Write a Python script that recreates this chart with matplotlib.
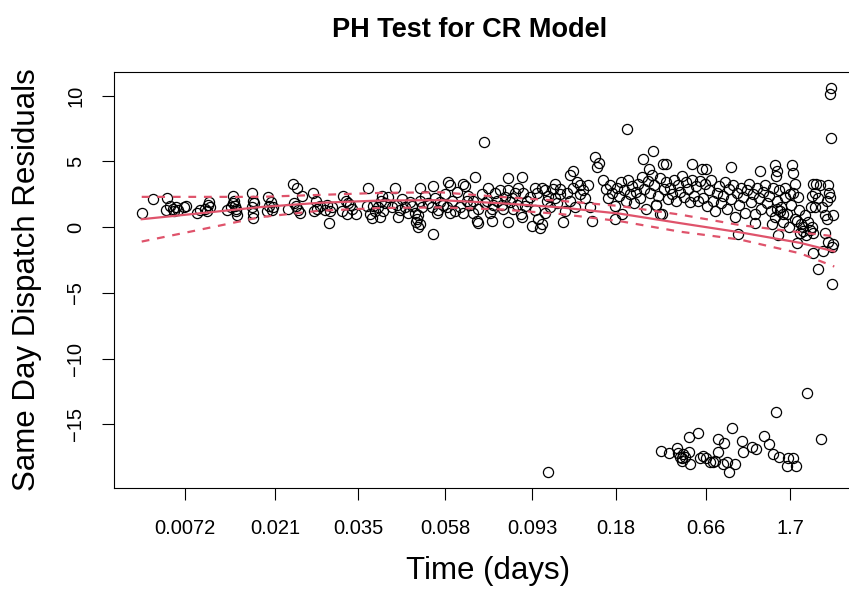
import numpy as np
import matplotlib
matplotlib.use("Agg")
import matplotlib.pyplot as plt

plt.rcParams['font.family'] = ['Liberation Sans', 'DejaVu Sans']

# x = rank of event time (cox.zph transform="rank"), y = scaled Schoenfeld residual
early_rank = [2, 13, 27, 26, 30, 33, 36, 38, 34, 44, 46,
              57, 60, 65, 68, 69, 70, 67,
              87, 93, 94, 95, 96, 97, 93, 91, 96,
              112, 113, 112, 113, 113, 114,
              128, 131, 129, 133, 127, 132,
              153, 157, 148, 156, 160, 154, 162, 158,
              173, 177, 180, 176, 174,
              187, 189, 185, 192, 190]
early_resid = [1.05, 2.1, 2.2, 1.3, 1.6, 1.4, 1.5, 1.3, 1.2, 1.5, 1.6,
               1.1, 1.3, 1.4, 1.7, 1.9, 1.5, 1.2,
               1.3, 2.4, 2.0, 1.6, 1.2, 0.9, 1.8, 1.5, 1.4,
               2.6, 2.0, 1.5, 0.7, 1.1, 1.8,
               2.3, 1.9, 1.6, 1.5, 1.2, 1.3,
               3.3, 3.0, 1.4, 1.6, 1.1, 1.8, 2.4, 1.3,
               2.6, 1.4, 1.6, 2.0, 1.2,
               1.7, 0.3, 1.3, 1.5, 1.2]

mid_rank = [203, 202, 207, 212, 210, 208, 216, 206,
            228, 227, 230, 232, 235, 233, 238, 242, 241, 243, 240, 245, 248, 252,
            255, 257, 258, 262, 260, 265, 268, 270, 272,
            280, 277, 280, 278, 276, 282, 275, 280, 278, 285, 288,
            293, 293, 292, 297, 300, 295, 298, 305,
            308, 310, 307, 312, 310, 303, 315, 317,
            323, 325, 320, 327, 323, 330, 328,
            335, 337, 338, 333, 338, 333,
            344, 342, 345,
            348, 347, 352, 353, 350, 352, 355,
            360, 357, 363, 362, 365,
            368, 368, 368, 370, 372, 375, 378,
            382, 381, 382, 383, 387, 377, 373, 385, 390,
            392, 400, 402, 398, 395, 395, 397,
            405, 407, 413, 410, 405, 402, 408, 408,
            415, 415, 417, 420, 420, 423, 425, 427,
            430, 433, 433, 437, 440, 430, 435, 440, 443,
            448, 450, 452, 445,
            455, 457, 459]
mid_resid = [2.4, 1.2, 1.0, 1.4, 1.7, 1.8, 1.0, 2.0,
             3.0, 1.6, 1.0, 0.7, 1.2, 1.6, 1.5, 2.4, 2.0, 1.2, 0.8, 1.8, 2.3, 1.5,
             3.0, 1.7, 0.8, 2.1, 1.3, 1.5, 1.1, 1.9, 1.6,
             3.0, 0.6, 0.2, 0.0, 0.4, 1.5, 1.1, 2.0, 0.9, 2.4, 1.8,
             3.1, -0.55, 1.5, 1.1, 1.9, 2.2, 1.3, 2.5,
             3.4, 3.2, 1.5, 2.0, 1.1, 1.7, 1.2, 2.7,
             3.3, 3.1, 1.5, 2.0, 1.1, 1.7, 2.4,
             3.8, 0.5, 0.3, 2.0, 1.4, 1.1,
             6.5, 2.5, 1.8,
             3.0, 2.0, 1.4, 1.7, 1.1, 0.45, 2.6,
             2.8, 2.0, 1.4, 1.7, 2.3,
             3.7, 2.8, 0.4, 1.9, 2.2, 2.6, 3.0,
             3.8, 1.0, 0.75, 2.6, 2.0, 1.7, 1.4, 1.6, 2.3,
             0.1, -0.1, 0.2, 0.6, 1.3, 3.0, 2.6,
             2.8, 2.0, 2.9, 1.5, 1.1, 3.0, 2.4, -18.6,
             3.3, 2.2, 1.8, 2.5, 2.9, 0.4, 1.2, 2.6,
             4.0, 4.3, 3.0, 3.4, 3.2, 2.0, 1.5, 2.5, 2.8,
             3.2, 1.5, 0.45, 2.2,
             5.3, 4.6, 4.9]

late_rank = [463, 466, 468, 470, 472, 475, 477, 479, 481, 484, 486, 488, 490, 492,
             494, 496, 498, 500, 502, 504, 506, 508, 510, 512, 514, 516, 518, 520,
             522, 524, 526, 528, 530, 532, 534, 536, 538, 540, 542, 544, 546, 548,
             550, 552, 554, 556, 558, 560,
             475, 482, 520, 516,
             487, 513, 503, 523, 526, 552, 509, 562, 566, 591, 620, 635, 637, 636,
             652, 653, 655, 691, 690, 691,
             563, 565, 567, 569, 571, 573, 575, 577, 579, 581, 583, 585, 587, 589,
             591, 593, 595, 597, 599, 601, 603, 605, 607, 609, 611, 613, 615, 617,
             619, 621, 623, 625, 627,
             598, 615, 632, 638,
             629, 631, 633, 635, 637, 639, 641, 643, 645, 647, 649, 651, 653, 655,
             657, 659, 661, 663, 665, 666, 668, 670, 671, 672,
             645, 650, 658, 637, 640, 643, 657, 663, 660,
             673, 676, 680, 688, 672, 675, 678, 689, 690, 687, 675, 682, 685, 687,
             693, 673, 685, 688, 692, 673, 683, 693, 678, 692]
late_resid = [3.6, 2.9, 2.2, 3.2, 2.6, 1.6, 3.0, 2.4, 3.4, 2.8, 2.0, 3.6, 2.5, 3.1,
              1.8, 2.7, 3.3, 2.2, 3.8, 2.9, 1.4, 3.5, 2.6, 4.0, 3.2, 1.7, 2.4, 3.7,
              1.0, 2.9, 3.4, 2.1, 3.0, 2.5, 3.6, 2.0, 3.2, 2.7, 3.9, 2.3, 3.4, 2.9,
              1.9, 3.6, 2.4, 3.1, 2.0, 3.5,
              0.6, 1.0, 1.0, 1.7,
              7.5, 5.8, 5.2, 4.8, 4.8, 4.8, 4.4, 4.4, 4.4, 4.55, 4.3, 4.7, 4.3, 3.9,
              4.7, 4.1, 3.3, 10.6, 10.1, 6.8,
              2.2, 3.3, 1.6, 2.8, 3.6, 2.0, 1.2, 2.6, 3.1, 1.8, 2.4, 3.4, 1.4, 2.9,
              2.1, 3.2, 0.8, 2.6, 1.7, 3.0, 2.3, 1.1, 2.8, 3.3, 1.9, 2.5, 1.0, 3.0,
              2.2, 1.4, 2.7, 3.2, 1.8,
              -0.5, 0.3, 0.2, -0.6,
              2.4, 1.2, 3.0, 0.8, 2.0, 2.8, 1.5, 0.4, 2.3, 1.0, 0.0, 1.7, 2.6, 0.6,
              -1.2, 1.3, 0.2, -0.3, 0.9, -0.6, 0.4, -0.2, 1.5, 0.0,
              3.0, 2.5, 2.3, 1.4, 1.2, 1.0, 0.5, 0.0, -0.45,
              3.3, 3.3, 3.2, 3.2, 2.4, 2.6, 2.2, 2.6, 2.3, 2.0, 1.5, 1.5, 0.9, 0.6,
              0.9, -0.45, -0.45, -1.1, -1.5, -2.0, -1.8, -1.3, -3.2, -4.3]

# events whose residual dropped to the -17 band
low_rank = [521, 529, 537, 538, 540, 542, 543, 545, 542, 550, 549, 549, 558, 560,
            563, 566, 570, 573, 575, 578, 578, 584, 583, 587, 589, 592, 595, 602,
            603, 612, 616, 624, 629, 633, 639, 636, 648, 653, 647, 656, 667, 681]
low_resid = [-17.0, -17.2, -16.8, -17.2, -17.5, -17.6, -17.3, -17.5, -17.8, -18.0,
             -17.1, -16.0, -15.7, -17.6, -17.4, -17.6, -17.9, -17.9, -17.8, -16.1,
             -17.1, -16.4, -18.0, -17.9, -18.6, -15.3, -18.0, -16.3, -17.1, -16.7,
             -16.9, -15.9, -16.5, -17.3, -17.5, -14.1, -17.6, -17.6, -18.2, -18.2,
             -12.6, -16.1]

# smoothed beta(t) with confidence band
fit_rank = [2, 60, 120, 180, 240, 300, 360, 420, 480, 540, 600, 660, 694]
fit_beta = [0.6, 1.05, 1.52, 1.85, 2.02, 2.05, 1.82, 1.5, 1.02, 0.3, -0.4, -1.2, -1.85]
fit_upper = [2.3, 2.3, 2.3, 2.45, 2.6, 2.65, 2.3, 2.0, 1.6, 0.95, 0.15, -0.4, -0.7]
fit_lower = [-1.1, -0.2, 0.75, 1.25, 1.45, 1.5, 1.35, 1.0, 0.45, -0.35, -0.95, -2.0, -3.0]

tick_rank = [45, 135, 218, 305, 392, 476, 566, 650]
tick_labels = ["0.0072", "0.021", "0.035", "0.058", "0.093", "0.18", "0.66", "1.7"]

x = np.array(early_rank + mid_rank + late_rank + low_rank)
y = np.array(early_resid + mid_resid + late_resid + low_resid)

fig = plt.figure(figsize=(8.49, 5.92), dpi=100)
ax = fig.add_axes([114 / 849, 1 - 488 / 592, 748 / 849, 416 / 592])

red = '#DF536B'
ax.plot(x, y, 'o', mfc='none', mec='black', ms=7.3, mew=0.9, zorder=2)
ax.plot(fit_rank, fit_beta, color=red, lw=1.6, zorder=3)
ax.plot(fit_rank, fit_upper, color=red, lw=1.6, dashes=(3.5, 3.5), zorder=3)
ax.plot(fit_rank, fit_lower, color=red, lw=1.6, dashes=(3.5, 3.5), zorder=3)

ax.set_xlim(-25.7, 721.7)
ax.set_ylim(-19.85, 11.8)
ax.set_xticks(tick_rank, tick_labels)
ax.set_yticks([-15, -10, -5, 0, 5, 10])
ax.tick_params(length=8.6, width=0.8, labelsize=14.5)
ax.tick_params(axis='x', pad=14)
ax.tick_params(axis='y', pad=12)
plt.setp(ax.get_yticklabels(), rotation=90, va='center')
for s in ax.spines.values():
    s.set_linewidth(0.8)

ax.set_xlabel("Time (days)", fontsize=22.5)
ax.xaxis.set_label_coords(0.5, (488 - 571) / 416)
ax.xaxis.label.set_va('center')
ax.set_ylabel("Same Day Dispatch Residuals", fontsize=22.5)
ax.yaxis.set_label_coords((27 - 114) / 748, 0.5)
ax.yaxis.label.set_va('center')
fig.text(470 / 849, 1 - 30 / 592, "PH Test for CR Model", ha='center', va='center',
         fontsize=19.5, fontweight='bold')

fig.savefig("out.png", dpi=100)
